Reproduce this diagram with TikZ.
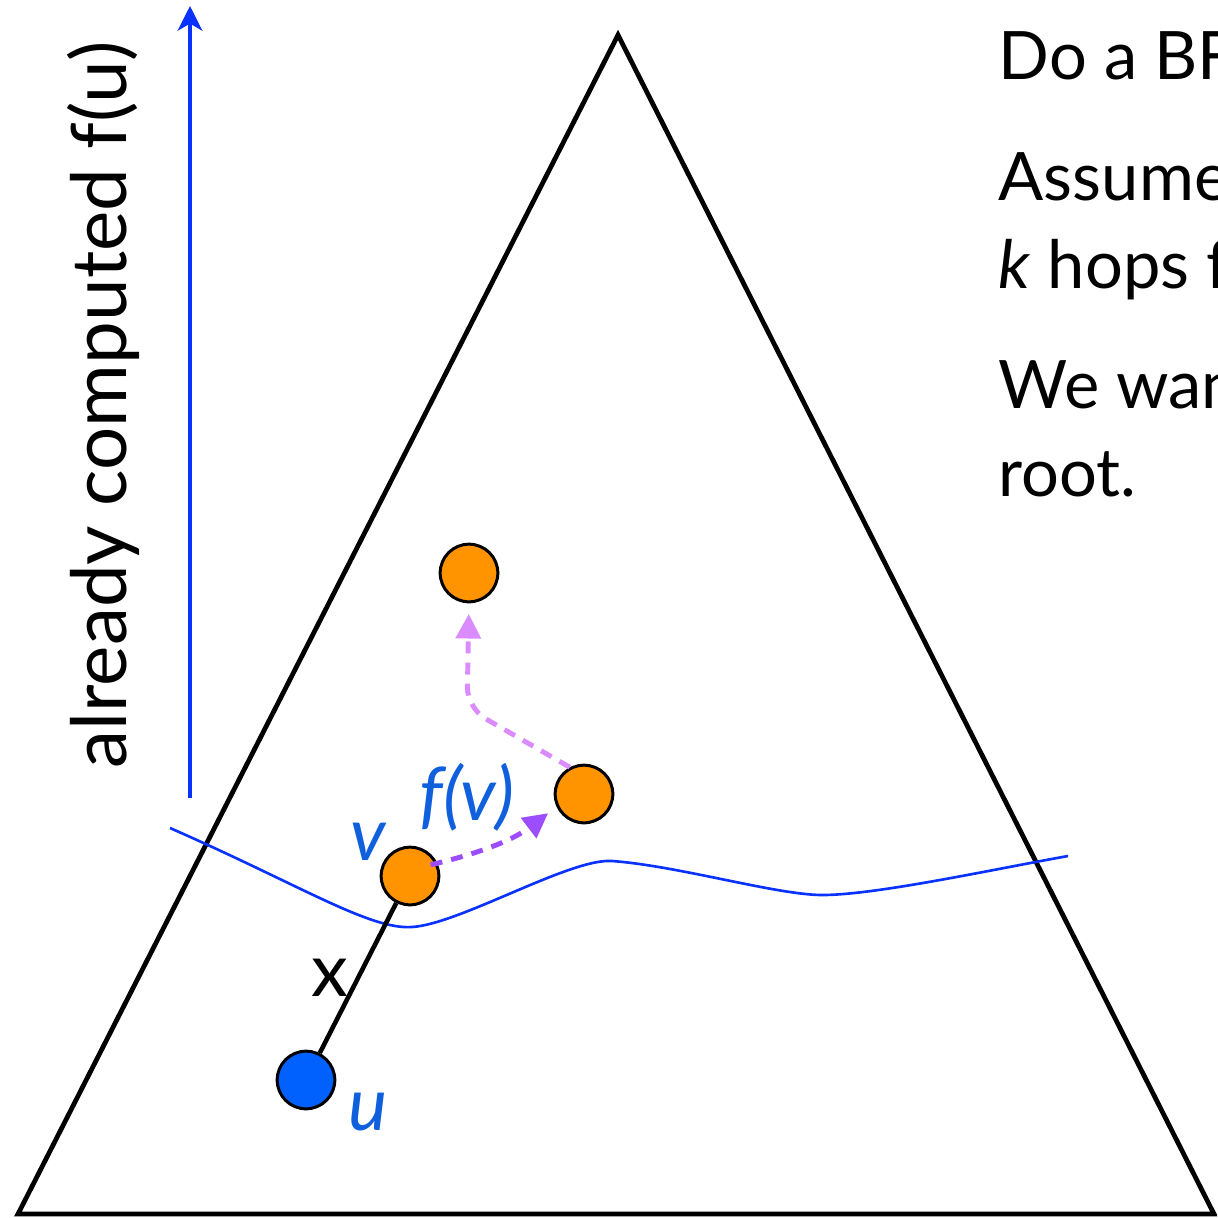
\documentclass[tikz,border=0pt]{standalone}
\usepackage{fontspec}
\setmainfont{Lato}
\usepackage{tikz}
\usetikzlibrary{positioning,arrows.meta}
\definecolor{cutblue}{RGB}{10,50,255}
\definecolor{labelblue}{RGB}{16,96,221}
\definecolor{rootblue}{RGB}{0,97,255}
\definecolor{nodeorange}{RGB}{255,148,0}
\definecolor{hoppurple}{RGB}{155,77,255}
\definecolor{hoplilac}{RGB}{218,140,255}
\tikzset{
  treenode/.style={circle, draw=black, line width=0.85pt, minimum size=16.4pt, inner sep=0pt},
  hop/.style={dash pattern=on 3.4pt off 2.6pt, line width=1.4pt, -{Triangle[length=7pt,width=7pt]}},
  bluelabel/.style={text=labelblue, font=\fontsize{21}{25}\selectfont\itshape},
}
\newcommand{\sidetext}[3]{%
  \node[anchor=base west, inner sep=0pt] (#1) at (998,#2) {\fontsize{19}{23}\selectfont #3};}

\begin{document}
\begin{tikzpicture}[x=0.01cm, y=-0.01cm]
  \useasboundingbox (0,0) rectangle (1217,1218);
  \clip (0,0) rectangle (1217,1218);
  % the tree
  \draw[line width=1.35pt] (618,35) -- (18,1214) -- (1214,1214) -- cycle;
  % frontier of the BFS
  \draw[cutblue, line width=0.75pt] (170,828) .. controls (300,885) and (370,930) .. (412,927)
    .. controls (460,924) and (570,858) .. (612,861)
    .. controls (680,866) and (780,896) .. (825,895)
    .. controls (880,894) and (990,870) .. (1068,856);
  % vertical arrow and its label
  \coordinate (upfoot) at (190,798);
  \coordinate (uptip) at (190,6);
  \draw[cutblue, line width=1.15pt, -{Stealth[length=7pt,width=7pt,inset=2pt]}] (upfoot) -- (uptip);
  \node[rotate=90, inner sep=0pt] (donelabel) at (103,405) {\fontsize{21.7}{26}\selectfont already computed f(u)};
  % nodes
  \node[treenode, fill=rootblue] (nU) at (306,1080) {};
  \node[treenode, fill=nodeorange] (nV) at (410,876) {};
  \node[treenode, fill=nodeorange] (nR) at (584,794) {};
  \node[treenode, fill=nodeorange] (nT) at (469,573) {};
  \draw[line width=1.3pt] (nU) -- (nV);
  \node[font=\fontsize{21}{25}\selectfont] (xlabel) at (330,978) {x};
  \node[bluelabel] (vlabel) at (368,842) {v};
  \node[bluelabel] (ulabel) at (368,1112) {u};
  \node[bluelabel] (flabel) at (467,797) {f(v)};
  % hops
  \draw[hop, hoppurple, shorten <=-2pt, shorten >=3pt] (nV.25) to[bend right=12] (nR.205);
  \draw[hop, hoplilac, rounded corners=6pt, shorten >=3pt] (nR.118) -- (467,708) -- (nT.south);
  % text on the right
  \sidetext{lineA}{80}{Do a BF}
  \sidetext{lineB}{200}{Assume}
  \sidetext{lineC}{288}{\textit{k} hops f}
  \sidetext{lineD}{408}{We wan}
  \sidetext{lineE}{496}{root.}
\end{tikzpicture}
\end{document}
